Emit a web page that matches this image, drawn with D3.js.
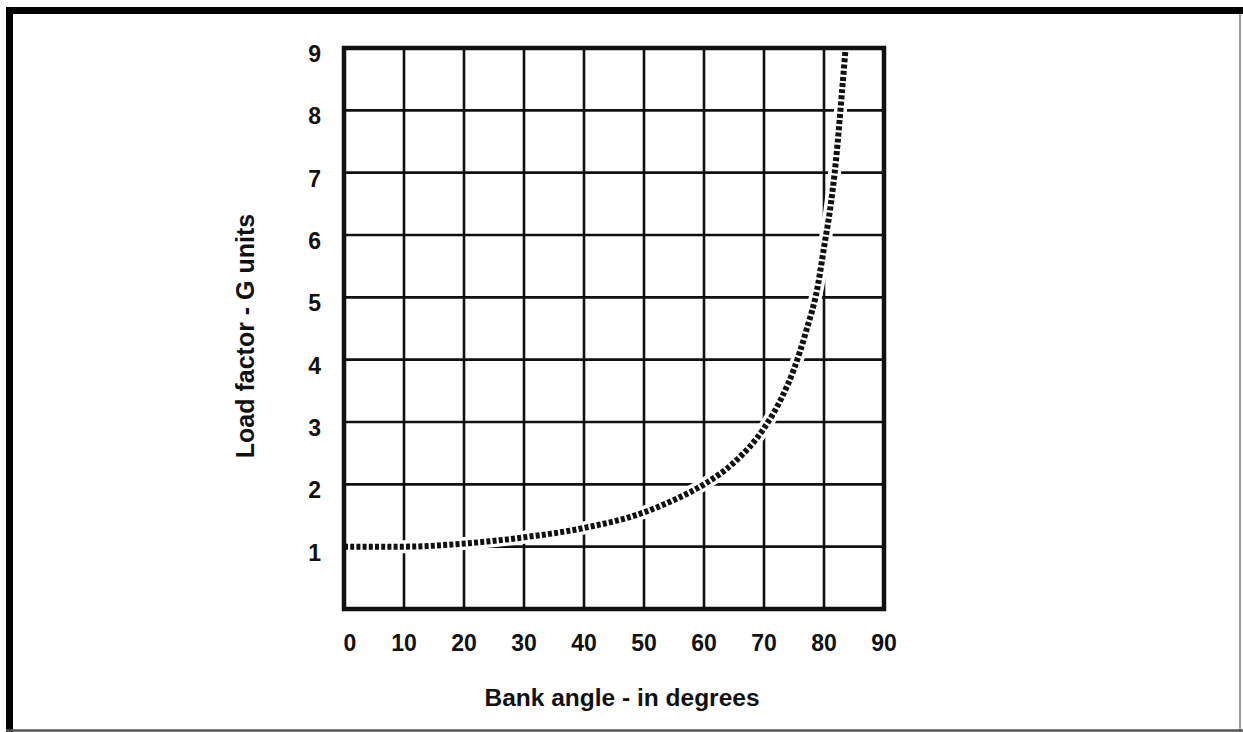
<!DOCTYPE html>
<html>
<head>
<meta charset="utf-8">
<script src="https://cdn.jsdelivr.net/npm/d3@7"></script>
<style>
  body { margin: 0; background: #fff; }
  text { font-family: "Liberation Sans", Arial, sans-serif; font-weight: bold; fill: #111; }
</style>
</head>
<body>
<svg id="chart" width="1243" height="732"></svg>
<script>
// bank angle (deg) -> load factor (G)
var angles = [0, 10, 20, 30, 40, 50, 55, 60, 65, 70, 73, 75, 77, 79, 80, 81, 82, 83, 83.6];
var loads  = [1.0, 1.0, 1.05, 1.15, 1.3, 1.55, 1.75, 2.0, 2.35, 2.9, 3.4, 3.85, 4.45, 5.2, 5.8, 6.4, 7.2, 8.3, 9.0];

var xTicks = [0, 10, 20, 30, 40, 50, 60, 70, 80, 90];
var yTicks = [1, 2, 3, 4, 5, 6, 7, 8, 9];

var xTitle = "Bank angle - in degrees";
var yTitle = "Load factor - G units";

var W = 1243, H = 732;
var plotL = 344, plotR = 884, plotT = 48, plotB = 609;

var svg = d3.select("#chart");

// outer frame (thick top/left, thin right/bottom like the scan)
svg.append("rect").attr("x", 0).attr("y", 0).attr("width", W).attr("height", H).attr("fill", "#fff");
svg.append("line").attr("x1", 6).attr("x2", W).attr("y1", 10.5).attr("y2", 10.5)
  .attr("stroke", "#000").attr("stroke-width", 7);
svg.append("line").attr("x1", 9.5).attr("x2", 9.5).attr("y1", 7).attr("y2", H)
  .attr("stroke", "#000").attr("stroke-width", 7);
svg.append("line").attr("x1", 1240).attr("x2", 1240).attr("y1", 14).attr("y2", H)
  .attr("stroke", "#999").attr("stroke-width", 2);
svg.append("line").attr("x1", 6).attr("x2", W).attr("y1", 730.5).attr("y2", 730.5)
  .attr("stroke", "#555").attr("stroke-width", 2.5);

var x = d3.scaleLinear().domain([0, 90]).range([plotL, plotR]);
var y = d3.scaleLinear().domain([0, 9]).range([plotB, plotT]);

var g = svg.append("g");

// grid
g.selectAll(".vgrid").data(xTicks.slice(1, -1)).enter().append("line")
  .attr("class", "vgrid")
  .attr("x1", function(d){ return x(d); }).attr("x2", function(d){ return x(d); })
  .attr("y1", plotT).attr("y2", plotB)
  .attr("stroke", "#111").attr("stroke-width", 2.6);

g.selectAll(".hgrid").data(yTicks.slice(0, -1)).enter().append("line")
  .attr("class", "hgrid")
  .attr("x1", plotL).attr("x2", plotR)
  .attr("y1", function(d){ return y(d); }).attr("y2", function(d){ return y(d); })
  .attr("stroke", "#111").attr("stroke-width", 2.6);

// curve: white halo first so grid lines break around it
var pts = angles.map(function(a, i){ return [a, loads[i]]; });
var line = d3.line()
  .x(function(d){ return x(d[0]); })
  .y(function(d){ return y(d[1]); })
  .curve(d3.curveMonotoneX);

g.append("path").datum(pts).attr("d", line)
  .attr("fill", "none").attr("stroke", "#fff").attr("stroke-width", 13);

// frame of the plot
g.append("rect")
  .attr("x", plotL).attr("y", plotT)
  .attr("width", plotR - plotL).attr("height", plotB - plotT)
  .attr("fill", "none").attr("stroke", "#111").attr("stroke-width", 4.5);

g.append("path").datum(pts).attr("d", line)
  .attr("fill", "none").attr("stroke", "#111")
  .attr("stroke-width", 6).attr("stroke-dasharray", "4,2.2");

// tick labels
svg.selectAll(".xlab").data(xTicks).enter().append("text")
  .attr("class", "xlab")
  .attr("x", function(d){ return x(d) + (d === 0 ? 6 : 0); })
  .attr("y", 651)
  .attr("text-anchor", "middle")
  .attr("font-size", "23px")
  .text(function(d){ return d; });

svg.selectAll(".ylab").data(yTicks).enter().append("text")
  .attr("class", "ylab")
  .attr("x", 321)
  .attr("y", function(d){ return y(d) + 14; })
  .attr("text-anchor", "end")
  .attr("font-size", "23px")
  .text(function(d){ return d; });

// axis titles
svg.append("text")
  .attr("x", 622).attr("y", 706)
  .attr("text-anchor", "middle")
  .attr("font-size", "24.5px")
  .text(xTitle);

svg.append("text")
  .attr("transform", "translate(254,336) rotate(-90)")
  .attr("text-anchor", "middle")
  .attr("font-size", "25px")
  .text(yTitle);
</script>
</body>
</html>
